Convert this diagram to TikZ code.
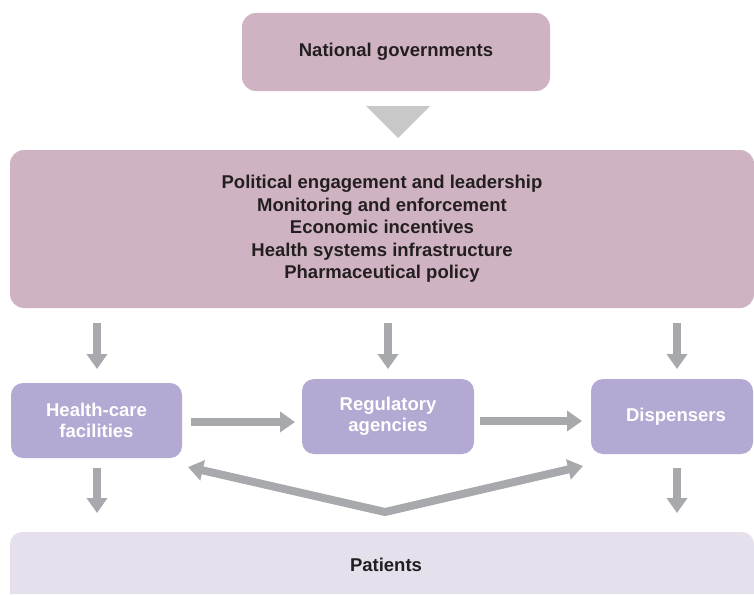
\documentclass[tikz,border=0pt]{standalone}
\usepackage{fontspec}
\setmainfont{Liberation Sans}
\usetikzlibrary{arrows.meta}
\definecolor{mauve}{HTML}{D0B3C3}
\definecolor{lav}{HTML}{B3A9D3}
\definecolor{patfill}{HTML}{E6E0EC}
\definecolor{arrgray}{HTML}{A7A9AC}
\definecolor{trigray}{HTML}{C8C8C9}
\definecolor{ink}{HTML}{231F20}
\begin{document}
\begin{tikzpicture}[x=1pt,y=-1pt,
  govbox/.style={fill=mauve,rounded corners=14pt,inner sep=0pt,align=center,font=\bfseries\fontsize{18.5}{22.5}\selectfont,text=ink},
  actbox/.style={fill=lav,rounded corners=12pt,inner sep=0pt,align=center,font=\bfseries\fontsize{18.5}{21.5}\selectfont,text=white},
  arr/.style={draw=arrgray,line width=8pt,-{Triangle[width=20pt,length=15pt]}},
  darr/.style={draw=arrgray,line width=8pt,miter limit=10,{Triangle[width=20pt,length=15pt]}-{Triangle[width=20pt,length=15pt]}}
]
\useasboundingbox (0,0) rectangle (754,594);
\fill[white] (0,0) rectangle (754,594);
% National governments
\node[govbox,minimum width=308pt,minimum height=78pt] (gov) at (396,52) {National governments};
% triangle
\coordinate (tl) at (366,106);
\coordinate (tr) at (430,106);
\coordinate (tb) at (398,138);
\fill[trigray] (tl) -- (tr) -- (tb) -- cycle;
% big box
\node[govbox,minimum width=744pt,minimum height=158pt] (pol) at (382,229)
  {Political engagement and leadership\\Monitoring and enforcement\\Economic incentives\\Health systems infrastructure\\Pharmaceutical policy};
% middle boxes
\node[actbox,minimum width=171pt,minimum height=75pt] (hc) at (96.5,420.5) {Health-care\\facilities};
\node[actbox,minimum width=172pt,minimum height=75pt] (reg) at (388,416.5) {Regulatory\\agencies};
\node[actbox,minimum width=162pt,minimum height=75pt] (disp) at (672,416.5) {\hspace*{8pt}Dispensers};
% patients
\fill[patfill] (10,594) [rounded corners=12pt]-- (10,532) -- (754,532) [sharp corners]-- (754,594) -- cycle;
\node[font=\bfseries\fontsize{18.5}{22}\selectfont,text=ink] (pat) at (386,565) {Patients};
% arrows down from policy box
\coordinate (a1s) at (97,323); \coordinate (a1e) at (97,369);
\coordinate (a2s) at (388,323); \coordinate (a2e) at (388,369);
\coordinate (a3s) at (677,323); \coordinate (a3e) at (677,369);
\draw[arr] (a1s) -- (a1e);
\draw[arr] (a2s) -- (a2e);
\draw[arr] (a3s) -- (a3e);
% horizontal
\draw[arr] (191,422) -- (295,422);
\draw[arr] (480,421) -- (582,421);
% V double arrow
\coordinate (vtip1) at (188,467);
\coordinate (vmid) at (385,512);
\coordinate (vtip2) at (583,466);
\draw[darr] (vtip1) -- (vmid) -- (vtip2);
% down to patients
\draw[arr] (97,468) -- (97,513);
\draw[arr] (677,468) -- (677,513);
\end{tikzpicture}
\end{document}
